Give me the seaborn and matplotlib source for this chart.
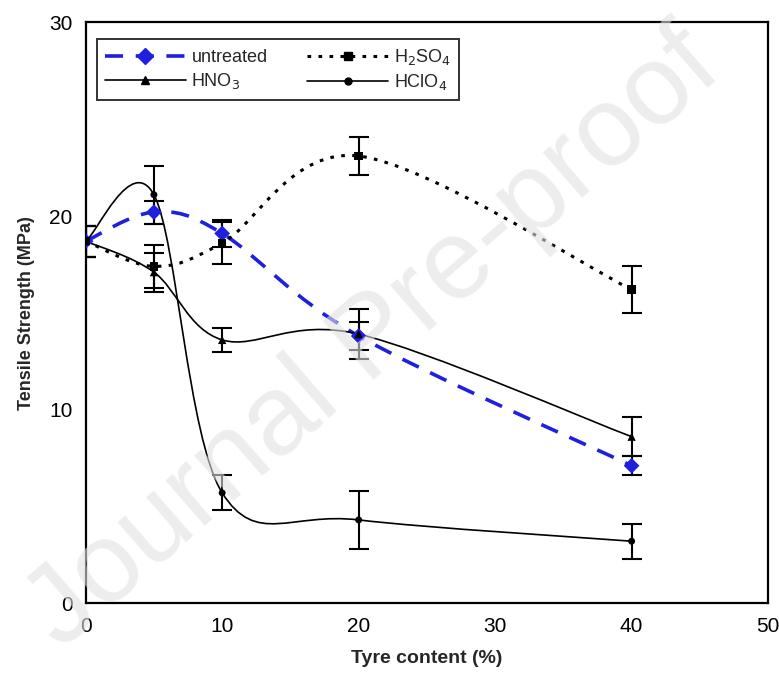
import matplotlib
matplotlib.use("Agg")
import matplotlib.pyplot as plt
import numpy as np
import pandas as pd
import seaborn as sns
from matplotlib.lines import Line2D
from matplotlib.patches import PathPatch
from matplotlib.path import Path

sns.set_theme(style="white")
plt.rcParams["font.family"] = ["Liberation Sans", "DejaVu Sans"]

# data
tyre = [0, 5, 10, 20, 40]
untreated = [18.7, 20.2, 19.1, 13.8, 7.1]
untreated_err = [0.8, 0.6, 0.7, 0.7, 0.5]
h2so4 = [18.7, 17.4, 18.6, 23.1, 16.2]
h2so4_err = [0.8, 1.1, 1.1, 1.0, 1.2]
hno3 = [18.7, 17.1, 13.6, 13.9, 8.6]
hno3_err = [0.8, 1.0, 0.6, 1.3, 1.0]
hclo4 = [18.7, 21.1, 5.7, 4.3, 3.2]
hclo4_err = [0.8, 1.5, 0.9, 1.5, 0.9]

series = [
    ("untreated", untreated, untreated_err),
    ("H$_2$SO$_4$", h2so4, h2so4_err),
    ("HNO$_3$", hno3, hno3_err),
    ("HClO$_4$", hclo4, hclo4_err),
]
styles = {
    "untreated": dict(color="#1f1fe0", ls=(0, (5, 3.5)), lw=2.6, marker="D", ms=8),
    "H$_2$SO$_4$": dict(color="black", ls=(0, (1.2, 2.4)), lw=2.2, marker="s", ms=6),
    "HNO$_3$": dict(color="black", ls="-", lw=1.2, marker="^", ms=6),
    "HClO$_4$": dict(color="black", ls="-", lw=1.2, marker="o", ms=5),
}

df = pd.concat(
    [pd.DataFrame({"tyre": tyre, "ts": v, "err": e, "treatment": name})
     for name, v, e in series],
    ignore_index=True,
)


def smooth_path(x, y):
    # Excel-style smoothed line (Catmull-Rom as cubic Bezier)
    pts = np.column_stack([x, y]).astype(float)
    ext = np.vstack([pts[0], pts, pts[-1]])
    verts = [pts[0]]
    codes = [Path.MOVETO]
    for i in range(len(pts) - 1):
        p0, p1, p2, p3 = ext[i], ext[i + 1], ext[i + 2], ext[i + 3]
        verts += [p1 + (p2 - p0) / 6, p2 - (p3 - p1) / 6, p2]
        codes += [Path.CURVE4] * 3
    return Path(verts, codes)


fig, ax = plt.subplots(figsize=(7.79, 6.80), dpi=100)
fig.subplots_adjust(left=0.110, right=0.986, bottom=0.113, top=0.967)

for name, vals, errs in series:
    st = styles[name]
    ax.add_patch(PathPatch(smooth_path(tyre, vals), fill=False, edgecolor=st["color"],
                           lw=st["lw"], ls=st["ls"], zorder=3))
    ax.errorbar(tyre, vals, yerr=errs, fmt="none", ecolor="black", elinewidth=1.5,
                capsize=7, capthick=1.5, zorder=4)

markers = {k: v["marker"] for k, v in styles.items()}
palette = {k: v["color"] for k, v in styles.items()}
sizes = {k: v["ms"] ** 2 for k, v in styles.items()}
sns.scatterplot(data=df, x="tyre", y="ts", hue="treatment", style="treatment",
                size="treatment", markers=markers, palette=palette, sizes=sizes,
                edgecolor="none", legend=False, zorder=5, ax=ax)

ax.set_xlim(0, 50)
ax.set_ylim(0, 30)
ax.set_xticks([0, 10, 20, 30, 40, 50])
ax.set_yticks([0, 10, 20, 30])
ax.tick_params(axis="x", direction="inout", length=8, width=1.2, labelsize=15,
               colors="black", pad=6)
ax.tick_params(axis="y", direction="out", length=6, width=1.2, labelsize=15,
               colors="black")
for sp in ax.spines.values():
    sp.set_color("black")
    sp.set_linewidth(1.6)
ax.set_xlabel("Tyre content (%)", fontsize=14, fontweight="bold", labelpad=10)
ax.set_ylabel("Tensile Strength (MPa)", fontsize=13, fontweight="bold", labelpad=10)

handles = [
    Line2D([], [], color=styles[name]["color"], ls=styles[name]["ls"], lw=styles[name]["lw"],
           marker=styles[name]["marker"], ms=styles[name]["ms"])
    for name, _, _ in series
]
labels = [name for name, _, _ in series]
order = [0, 2, 1, 3]
leg = ax.legend([handles[i] for i in order], [labels[i] for i in order], ncol=2,
                loc="upper left", bbox_to_anchor=(0.016, 0.972), borderaxespad=0,
                fontsize=13, frameon=True, fancybox=False, edgecolor="black",
                handlelength=4.5, columnspacing=2.2, handletextpad=0.3,
                borderpad=0.45, labelspacing=0.3)
leg.get_frame().set_linewidth(1.4)

fig.text(0.48, 0.50, "Journal Pre-proof", fontsize=82, color="#e2e2e2", alpha=0.6,
         rotation=41, ha="center", va="center", zorder=10)

fig.savefig("out.png", dpi=100)
